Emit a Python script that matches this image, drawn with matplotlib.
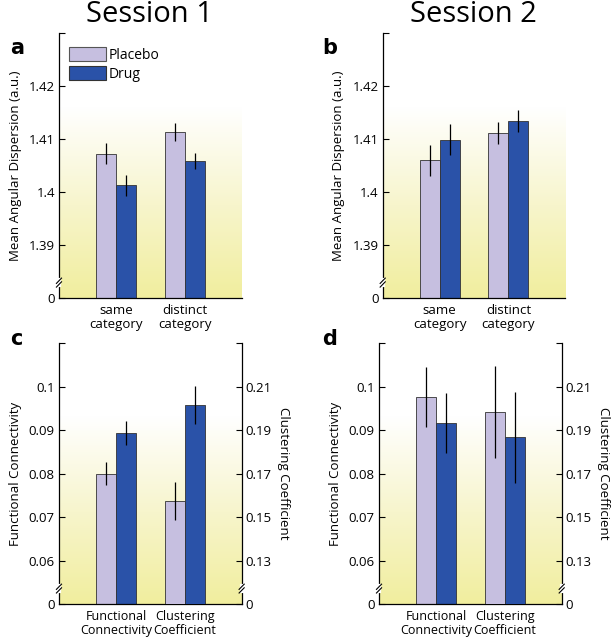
import numpy as np
import matplotlib.pyplot as plt
from matplotlib.colors import LinearSegmentedColormap
from matplotlib.patches import Patch

plt.rcParams['font.family'] = ['Open Sans', 'DejaVu Sans']

# categories
groups_ab = ['same\ncategory', 'distinct\ncategory']
groups_cd = ['Functional\nConnectivity', 'Clustering\nCoefficient']
series = ['Placebo', 'Drug']

# Session 1 / 2 angular dispersion (same, distinct)
s1_placebo = [1.4073, 1.4113]
s1_placebo_err = [0.0020, 0.0017]
s1_drug = [1.4013, 1.4059]
s1_drug_err = [0.0020, 0.0016]
s2_placebo = [1.4060, 1.4112]
s2_placebo_err = [0.0029, 0.0021]
s2_drug = [1.4099, 1.4135]
s2_drug_err = [0.0029, 0.0021]

# functional connectivity (left axis) and clustering coefficient (right axis)
c_fc = [0.0800, 0.0894]
c_fc_err = [0.0026, 0.0027]
c_cc = [0.1574, 0.2016]
c_cc_err = [0.0088, 0.0087]
d_fc = [0.0977, 0.0917]
d_fc_err = [0.0069, 0.0069]
d_cc = [0.1984, 0.1868]
d_cc_err = [0.0210, 0.0209]

ab_ticks = [1.38, 1.39, 1.40, 1.41, 1.42, 1.43]
ab_labels = ['0', '1.39', '1.4', '1.41', '1.42', '']
fc_ticks = [0.05, 0.06, 0.07, 0.08, 0.09, 0.10, 0.11]
fc_labels = ['0', '0.06', '0.07', '0.08', '0.09', '0.1', '']
cc_ticks = [0.11, 0.13, 0.15, 0.17, 0.19, 0.21, 0.23]
cc_labels = ['0', '0.13', '0.15', '0.17', '0.19', '0.21', '']

col_p = '#c6bfe0'
col_d = '#2a52a8'
W = 0.29
FS = 9.5

bg = LinearSegmentedColormap.from_list('bg', [(0, '#f1ee9e'), (0.35, '#f7f5cc'), (0.72, '#ffffff'), (1, '#ffffff')])


def setup(ax, ticks, labels, side='left'):
    ax.set_ylim(ticks[0], ticks[-1])
    ax.set_yticks(ticks)
    ax.set_yticklabels(labels, fontsize=FS)
    ax.tick_params(axis='y', direction='in', length=4, width=0.8, pad=3)
    for s in ['top', 'right', 'left', 'bottom']:
        ax.spines[s].set_visible(False)
    ax.spines[side].set_visible(True)
    ax.spines[side].set_linewidth(0.9)
    # axis break
    xs = 0 if side == 'left' else 1
    ax.plot([xs, xs], [0.05, 0.068], color='white', lw=3, transform=ax.transAxes,
            clip_on=False, zorder=5)
    ax.plot([xs - 0.014, xs + 0.014], [0.042, 0.062], color='k', lw=0.8,
            transform=ax.transAxes, clip_on=False, zorder=6)
    ax.plot([xs - 0.014, xs + 0.014], [0.056, 0.076], color='k', lw=0.8,
            transform=ax.transAxes, clip_on=False, zorder=6)


def base(rect, xlabels, xfs):
    ax = fig.add_axes(rect)
    grad = np.linspace(0, 1, 256).reshape(-1, 1)
    ax.imshow(grad, extent=[0, 1, 0, 1], transform=ax.transAxes, aspect='auto',
              cmap=bg, origin='lower', zorder=0)
    ax.set_xlim(0.17, 2.83)
    ax.set_xticks([1, 2])
    ax.set_xticklabels(xlabels, fontsize=xfs, linespacing=1.1)
    ax.tick_params(axis='x', length=0, pad=4)
    ax.spines['bottom'].set_linewidth(0.9)
    return ax


def bars(ax, x, vals, errs, color, low):
    ax.bar(x, np.array(vals) - low, W, bottom=low, color=color, edgecolor='#333333',
           linewidth=0.6, zorder=2)
    ax.errorbar(x, vals, yerr=errs, fmt='none', ecolor='k', elinewidth=0.9,
                capsize=0, zorder=3)


fig = plt.figure(figsize=(6.13, 6.4), dpi=100)
x = np.array([1, 2])

# a, b
for i, (p, pe, d, de, lab, title) in enumerate([
        (s1_placebo, s1_placebo_err, s1_drug, s1_drug_err, 'a', 'Session 1'),
        (s2_placebo, s2_placebo_err, s2_drug, s2_drug_err, 'b', 'Session 2')]):
    left = [0.0962, 0.6243][i]
    ax = base([left, 0.534, 0.298, 0.414], groups_ab, FS)
    setup(ax, ab_ticks, ab_labels)
    ax.spines['bottom'].set_visible(True)
    bars(ax, x - W / 2, p, pe, col_p, ab_ticks[0])
    bars(ax, x + W / 2, d, de, col_d, ab_ticks[0])
    ax.set_ylabel('Mean Angular Dispersion (a.u.)', fontsize=FS, labelpad=5)
    fig.text([0.017, 0.525][i], 0.925, lab, fontsize=15, fontweight='bold',
             family='DejaVu Sans', va='center')
    fig.text([0.244, 0.772][i], 0.978, title, fontsize=21, ha='center', va='center')
    if i == 0:
        handles = [Patch(facecolor=col_p, edgecolor='#555555', linewidth=0.8),
                   Patch(facecolor=col_d, edgecolor='#333333', linewidth=0.8)]
        ax.legend(handles, series, loc='upper left', bbox_to_anchor=(0.0, 0.985),
                  frameon=False, fontsize=10, handlelength=2.7, handleheight=1.2,
                  handletextpad=0.2, labelspacing=0.25, borderaxespad=0.3)

# c, d
for i, (fc, fce, cc, cce, lab) in enumerate([
        (c_fc, c_fc_err, c_cc, c_cc_err, 'c'),
        (d_fc, d_fc_err, d_cc, d_cc_err, 'd')]):
    left = [0.0962, 0.6183][i]
    ax = base([left, 0.0563, 0.298, 0.4073], groups_cd, 9)
    setup(ax, fc_ticks, fc_labels)
    ax.spines['bottom'].set_visible(True)
    ax2 = ax.twinx()
    setup(ax2, cc_ticks, cc_labels, side='right')
    ax2.set_xlim(0.17, 2.83)
    bars(ax, [x[0] - W / 2], [fc[0]], [fce[0]], col_p, fc_ticks[0])
    bars(ax, [x[0] + W / 2], [fc[1]], [fce[1]], col_d, fc_ticks[0])
    bars(ax2, [x[1] - W / 2], [cc[0]], [cce[0]], col_p, cc_ticks[0])
    bars(ax2, [x[1] + W / 2], [cc[1]], [cce[1]], col_d, cc_ticks[0])
    ax.set_ylabel('Functional Connectivity', fontsize=FS, labelpad=5)
    ax2.set_ylabel('Clustering Coefficient', fontsize=FS, rotation=270, labelpad=13)
    fig.text([0.017, 0.525][i], 0.47, lab, fontsize=15, fontweight='bold',
             family='DejaVu Sans', va='center')

fig.savefig('out.png', dpi=100)
